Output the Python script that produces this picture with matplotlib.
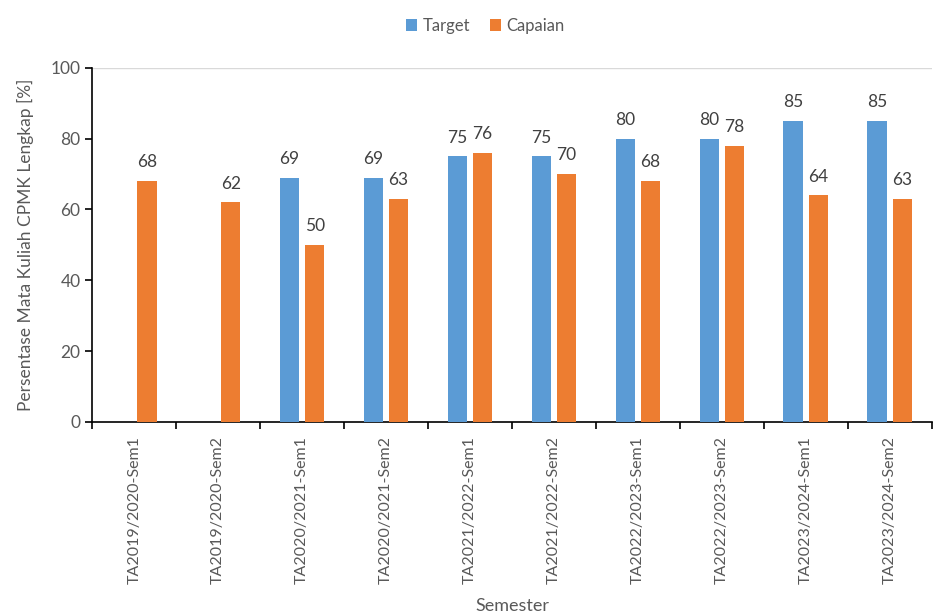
import matplotlib.pyplot as plt
import numpy as np

plt.rcParams['font.family'] = ['Lato', 'DejaVu Sans']

semesters = ["TA2019/2020-Sem1", "TA2019/2020-Sem2", "TA2020/2021-Sem1", "TA2020/2021-Sem2",
             "TA2021/2022-Sem1", "TA2021/2022-Sem2", "TA2022/2023-Sem1", "TA2022/2023-Sem2",
             "TA2023/2024-Sem1", "TA2023/2024-Sem2"]
target = [None, None, 69, 69, 75, 75, 80, 80, 85, 85]
capaian = [68, 62, 50, 63, 76, 70, 68, 78, 64, 63]

blue = "#5B9BD5"
orange = "#ED7D31"
text_grey = "#595959"
label_grey = "#404040"

fig = plt.figure(figsize=(9.42, 6.16), dpi=100)
ax = fig.add_axes([0.098, 0.315, 0.891, 0.575])

x = np.arange(len(semesters))
w = 0.23
off = 0.15

tx = [xi - off for xi, v in zip(x, target) if v is not None]
tv = [v for v in target if v is not None]
b1 = ax.bar(tx, tv, w, color=blue, label="Target", zorder=3)
b2 = ax.bar(x + off, capaian, w, color=orange, label="Capaian", zorder=3)

for rect, v in zip(b1, tv):
    ax.text(rect.get_x() + rect.get_width() / 2, v + 3, f"{v}", ha="center", va="bottom",
            fontsize=12.5, color=label_grey)
for rect, v in zip(b2, capaian):
    ax.text(rect.get_x() + rect.get_width() / 2, v + 3, f"{v}", ha="center", va="bottom",
            fontsize=12.5, color=label_grey)

ax.set_xlim(-0.5, len(semesters) - 0.5)
ax.set_ylim(0, 100)
ax.set_yticks(range(0, 101, 20))
ax.set_xticks(x)
ax.set_xticklabels(semesters, rotation=90, fontsize=11.5, color=text_grey)
ax.set_xticks(np.arange(-0.5, len(semesters), 1), minor=True)
ax.tick_params(axis="x", which="major", length=0, pad=10)
ax.tick_params(axis="x", which="minor", length=5, width=1.2, color="black")
ax.tick_params(axis="y", length=5, width=1.2, color="black", labelsize=12.5, labelcolor=text_grey)

ax.axhline(100, color="#D9D9D9", lw=1, zorder=1)
for s in ["top", "right"]:
    ax.spines[s].set_visible(False)
for s in ["left", "bottom"]:
    ax.spines[s].set_color("black")
    ax.spines[s].set_linewidth(1.2)

ax.set_ylabel("Persentase Mata Kuliah CPMK Lengkap [%]", fontsize=12.5, color=text_grey, labelpad=12)
ax.set_xlabel("Semester", fontsize=13, color=text_grey, labelpad=10)

fig.legend(handles=[b1, b2], loc="upper center", bbox_to_anchor=(0.515, 0.995), ncol=2,
           frameon=False, fontsize=12, handlelength=0.7, handleheight=0.7,
           handletextpad=0.3, columnspacing=1.2, labelcolor=text_grey)

fig.savefig("out.png", dpi=100)
